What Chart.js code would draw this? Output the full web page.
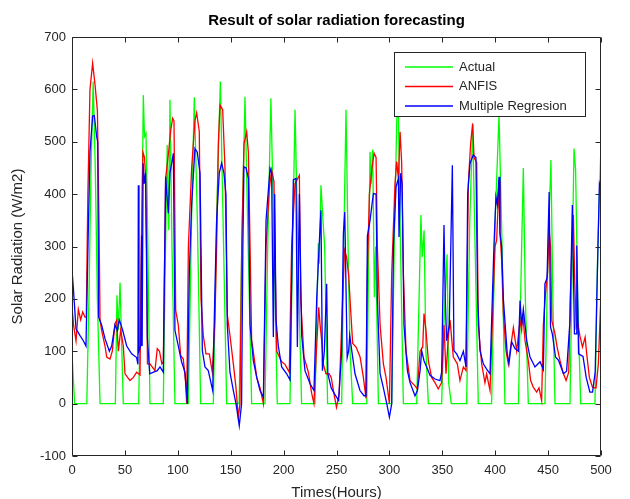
<!DOCTYPE html>
<html>
<head>
<meta charset="utf-8">
<script src="https://cdn.jsdelivr.net/npm/chart.js@4/dist/chart.umd.min.js"></script>
<style>
html,body{margin:0;padding:0;background:#fff;}
#wrap{width:630px;height:499px;position:relative;}
</style>
</head>
<body>
<div id="wrap"><canvas id="c" width="630" height="499"></canvas></div>
<script>
const chartTitle = "Result of solar radiation forecasting";
const xTitle = "Times(Hours)";
const yTitle = "Solar Radiation (W/m2)";
const seriesNames = ["Actual", "ANFIS", "Multiple Regresion"];
const xTickValues = [0, 50, 100, 150, 200, 250, 300, 350, 400, 450, 500];
const yTickValues = [-100, 0, 100, 200, 300, 400, 500, 600, 700];

const actualHours = [0,2.5,14,16,18,20,22,24,26.5,
 41,42.5,43.8,45.4,47,48.5,
 63,65.9,67.4,68.5,69.9,71,73.7,
 86.3,88,90,91.5,92.6,94.5,97.3,
 110,113,115.6,118.5,121.6,
 133.6,137,140.2,142.5,146.2,
 158,160.5,163.5,166.5,169.8,
 182.4,185,188,191,194,
 206,208.5,210.8,214,217,
 229.7,232.8,233.6,235.3,237.6,238.8,241.6,
 254.9,256.8,259,261.2,262.8,265.3,
 278.6,281.7,282.8,284.2,285.8,287,289.6,
 302.2,305,307,308.5,310.5,313.2,
 325.8,329.8,331,332.8,334.5,336.8,
 349.4,351.5,354.5,356,358.5,
 373,376,378.7,381,384,
 396.6,400,403.6,406.5,409.2,
 422,424.5,426.6,428.5,431.3,
 447,450,452.7,454.5,456.5,
 470.7,473,474.5,476,478,480.8,
 494.3,497,500];
const actualValues = [95,0,0,200,450,615,450,200,0,
 0,207,140,231,110,0,
 0,300,589,510,516,400,0,
 0,250,494,331,580,300,0,
 0,350,585,350,0,
 0,380,615,380,0,
 0,300,586,300,0,
 0,300,583,300,0,
 0,300,561,250,0,
 0,306,267,417,337,300,0,
 0,300,561,267,100,0,
 0,481,420,485,203,300,0,
 0,350,545,555,300,0,
 0,360,280,331,100,0,
 0,150,285,40,0,
 0,350,532,300,0,
 0,350,551,300,0,
 0,250,450,200,0,
 0,300,465,200,0,
 0,300,487,446,200,0,
 0,300,494];

const anfisHours = [0,1.5,3.8,6,8.2,10.1,12.3,13.5,15,17,19.5,21.7,24,25.5,26.5,28,31.2,32.8,35.9,38.1,40.6,42.2,43.8,46,48.5,50.1,54.8,58,61.1,64.3,65.5,67,68.5,69.5,70.5,71.3,73.7,
 78.4,80.6,82.7,84.9,86.3,88.5,91.3,93.2,95.1,96.4,98,100.5,102.7,105.2,107.4,108.4,110,113.1,116.2,117.8,120.3,121.9,124.1,126.6,129.8,132.6,135.1,136.7,138.3,139.9,142.4,144.6,146.8,149.3,152.5,155,157.2,158.8,
 160.4,162.6,165.1,166.7,168.3,169.8,170.8,174.6,177.7,180.9,183.4,186.5,188.7,190.9,192.2,193.5,198.2,201.3,205.4,207.6,210.8,214.9,216.1,219.3,223.4,226.5,228.7,
 231,233.2,234.5,236,237.5,240,243,245,247.5,250,252.5,254.9,257.6,259.5,261.5,263.4,265.3,268.5,272.3,275.4,277.9,
 279.2,281.1,283.3,285.5,287.4,288.6,291.2,294.3,296.8,300,302.2,305.3,306.9,308.5,310.1,311.6,313.2,315.7,319.5,324.2,326.4,329,331.5,
 332.7,334.6,336.8,339.9,343.1,346.2,349.4,351.6,353.5,355.7,357.3,360.4,364.2,366.7,369.9,372.4,374.6,376.8,378.7,380,382.5,384,387.2,390.3,391.9,395.1,399.8,401.4,403.6,404.5,406.1,407.7,410.2,412.4,414.6,
 417.2,420.3,423.5,425,426,428.2,431.3,433.5,436.1,439.2,441.4,443.9,445.5,447.5,449.5,451,452.3,453.5,456.5,458.5,461.3,464,467,469.5,471,472.5,473.9,475,476.5,478,480,482.5,485,486.5,489,492,495.3,497.5,500];
const anfisValues = [185,150,120,180,160,175,165,165,400,600,650,610,560,350,160,140,110,89,85,100,152,159,100,140,110,57,44,50,60,55,300,480,470,436,300,76,76,
 63,105,100,76,80,430,480,520,545,540,178,150,92,85,40,0,300,450,540,555,520,200,130,95,95,60,160,300,497,570,561,450,170,130,76,30,-26,0,
 300,497,519,480,300,120,108,50,30,0,300,410,446,424,250,100,80,75,60,300,420,436,200,89,60,20,0,
 100,184,150,120,76,57,57,50,20,-7,19,150,293,280,245,178,115,108,89,50,10,
 250,400,446,478,470,300,150,76,50,0,250,420,462,430,519,460,250,101,44,34,28,100,108,
 172,140,82,50,40,28,40,150,57,127,160,89,76,44,70,63,420,497,535,470,460,150,76,40,57,25,300,312,424,330,274,172,101,76,108,
 145,101,159,140,172,120,82,44,31,22,30,6,150,210,250,330,300,159,133,108,82,60,44,60,200,300,360,250,146,153,130,108,127,95,50,31,30,76,210];

const mrHours = [0,1.3,3.8,7.6,10.7,13.2,15.1,17,19.5,21.1,23.3,24.3,25.2,28,31.2,35.3,37.5,40.6,42.8,44.7,47.9,51.7,56.4,61.1,62.3,62.7,63.3,65,65.8,66.3,67.2,68.3,69.5,70.3,71.2,73.5,77,80.6,83.2,86.3,
 88.5,91,92.6,95.8,97.3,100.5,103.6,106.8,109,110.9,113.1,116.2,118.4,121,123.2,125.7,128.8,133,135.1,136.7,139.2,141.4,143.6,145.5,146.8,149.3,152.5,155,157.2,158.1,160.3,
 161.5,162.5,164.5,166.7,168.3,171.4,174.6,177.7,180.9,183.4,187.2,188.7,190.3,191.6,192.8,195,198.2,202.9,206.1,209.2,211.7,213,214.9,217.1,220.2,225,228.7,
 231.3,233.8,235.3,236.7,238.5,240.7,241.8,245,248,252,254.9,256.5,257.8,260.1,261.5,262.5,264.5,267.5,272.2,276,277.9,
 279.2,281.7,283.3,284.9,287.4,288.6,291.2,294.3,297.5,300,302.2,303.8,306.3,308.5,309.1,310.7,312,313.8,317,319.5,324.2,326.5,329,
 330.5,332.7,335.2,338.4,343.1,347.8,349.4,351.6,352.8,354.1,356.6,359.5,361,363.6,366.7,369.9,372.4,374,376.2,379.3,381.8,383.4,385.6,388.8,391.9,395.1,398.8,400.7,402,403.6,404.5,406.1,407.7,411.4,413,
 415.5,418.7,421.9,423.5,425,426.6,429.8,432.9,437.6,442.4,445.5,447,449,451,452.3,454,457,460,464.5,467.5,470.7,472.9,474.9,476.5,477.1,478.8,483,486,489.5,492,494.5,496,498.5,500];
const mrValues = [255,220,143,130,120,110,300,480,549,550,510,500,165,150,124,100,110,150,140,160,140,110,95,88,75,417,100,110,321,110,459,420,440,300,126,57,60,63,70,60,
 433,363,440,478,140,110,80,60,0,250,380,487,480,440,101,70,63,25,216,350,440,459,440,400,150,60,25,0,-29,-42,0,
 300,452,450,430,150,82,50,25,12,350,449,440,127,400,160,110,70,57,45,427,430,108,400,130,63,38,25,
 200,310,369,63,100,229,57,30,19,6,100,325,366,88,101,130,100,57,25,15,15,
 320,350,376,401,400,200,57,30,0,-26,0,300,414,430,318,440,420,150,63,40,15,25,63,
 101,82,70,54,47,44,60,341,200,120,150,455,101,95,82,100,70,400,459,475,470,200,101,76,66,57,300,395,380,433,325,300,200,95,76,
 118,105,100,197,150,180,120,89,70,80,65,229,240,404,146,133,89,82,57,62,159,379,133,133,302,95,90,50,22,22,60,200,420,410];

const seriesColors = ["#00ff00", "#ff0000", "#0000ff"];

function toPoints(hs, vs){ return hs.map((h,i)=>({x:h, y:vs[i]})); }

const FONT = '"Liberation Sans", Arial, Helvetica, sans-serif';
const TXT = '#262626';

const framePlugin = {
  id: 'frame',
  afterDatasetsDraw(chart){
    const {ctx, chartArea:a, scales:{x, y}} = chart;
    ctx.save();
    ctx.strokeStyle = TXT;
    ctx.lineWidth = 1;
    const L = Math.round(a.left)+0.5, R = Math.round(a.right)-0.5, T = Math.round(a.top)+0.5, B = Math.round(a.bottom)-0.5;
    ctx.beginPath();
    ctx.rect(L, T, R-L, B-T);
    ctx.stroke();
    ctx.beginPath();
    const tl = 5;
    x.ticks.forEach(t=>{
      const px = Math.round(x.getPixelForValue(t.value))+0.5;
      ctx.moveTo(px, B); ctx.lineTo(px, B-tl);
      ctx.moveTo(px, T); ctx.lineTo(px, T+tl);
    });
    y.ticks.forEach(t=>{
      const py = Math.round(y.getPixelForValue(t.value))+0.5;
      ctx.moveTo(L, py); ctx.lineTo(L+tl, py);
      ctx.moveTo(R, py); ctx.lineTo(R-tl, py);
    });
    ctx.stroke();
    ctx.restore();
  }
};

const legendPlugin = {
  id: 'boxLegend',
  afterDraw(chart){
    const ctx = chart.ctx;
    const bx = 394.5, by = 52.5, bw = 191, bh = 64;
    ctx.save();
    ctx.fillStyle = '#ffffff';
    ctx.fillRect(bx, by, bw, bh);
    ctx.strokeStyle = TXT;
    ctx.lineWidth = 1;
    ctx.strokeRect(bx, by, bw, bh);
    ctx.font = '13px ' + FONT;
    ctx.textBaseline = 'middle';
    ctx.textAlign = 'left';
    chart.data.datasets.forEach((ds, i)=>{
      const ry = 67 + i*19.5;
      ctx.strokeStyle = ds.borderColor;
      ctx.lineWidth = 1.5;
      ctx.beginPath();
      ctx.moveTo(405, ry); ctx.lineTo(453, ry);
      ctx.stroke();
      ctx.fillStyle = TXT;
      ctx.fillText(ds.label, 459, ry);
    });
    ctx.restore();
  }
};

new Chart(document.getElementById('c'), {
  type: 'line',
  data: {
    datasets: [
      {label: seriesNames[0], data: toPoints(actualHours, actualValues), borderColor: seriesColors[0], order: 3},
      {label: seriesNames[1], data: toPoints(anfisHours, anfisValues), borderColor: seriesColors[1], order: 2},
      {label: seriesNames[2], data: toPoints(mrHours, mrValues), borderColor: seriesColors[2], order: 1}
    ]
  },
  options: {
    responsive: false,
    animation: false,
    devicePixelRatio: 1,
    layout: {padding: {left: 0, right: 29, top: 0, bottom: 0}},
    elements: {
      point: {radius: 0},
      line: {borderWidth: 1.3, tension: 0, fill: false}
    },
    plugins: {
      legend: {display: false},
      tooltip: {enabled: false},
      title: {
        display: true, text: chartTitle, fullSize: false,
        color: '#000', font: {family: FONT, size: 15, weight: 'bold'},
        padding: {top: 12, bottom: 7}
      }
    },
    scales: {
      x: {
        type: 'linear', min: 0, max: 500,
        afterBuildTicks: s => { s.ticks = xTickValues.map(v=>({value:v})); },
        afterFit: s => { s.height = 43; },
        grid: {display: false, drawTicks: false},
        border: {display: false},
        ticks: {color: TXT, font: {family: FONT, size: 13}, padding: 7, maxRotation: 0, autoSkip: false},
        title: {display: true, text: xTitle, color: TXT, font: {family: FONT, size: 15}, padding: {top: 0, bottom: -3}}
      },
      y: {
        type: 'linear', min: -100, max: 700,
        afterBuildTicks: s => { s.ticks = yTickValues.map(v=>({value:v})); },
        afterFit: s => { s.width = 72; },
        grid: {display: false, drawTicks: false},
        border: {display: false},
        ticks: {color: TXT, font: {family: FONT, size: 13}, padding: 6, autoSkip: false},
        title: {display: true, text: yTitle, color: TXT, font: {family: FONT, size: 15}, padding: {top: 9, bottom: 0}}
      }
    }
  },
  plugins: [framePlugin, legendPlugin]
});
</script>
</body>
</html>
